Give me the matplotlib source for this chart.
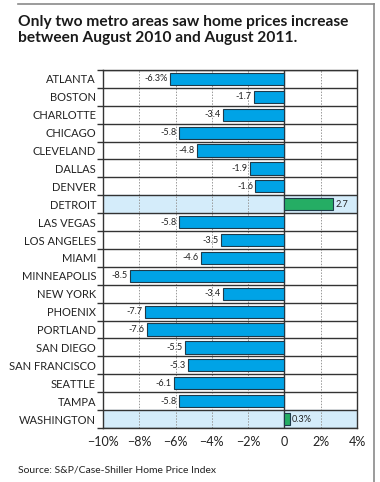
import matplotlib.pyplot as plt
from matplotlib.lines import Line2D
import numpy as np

cities = ['ATLANTA', 'BOSTON', 'CHARLOTTE', 'CHICAGO', 'CLEVELAND', 'DALLAS',
          'DENVER', 'DETROIT', 'LAS VEGAS', 'LOS ANGELES', 'MIAMI', 'MINNEAPOLIS',
          'NEW YORK', 'PHOENIX', 'PORTLAND', 'SAN DIEGO', 'SAN FRANCISCO',
          'SEATTLE', 'TAMPA', 'WASHINGTON']
changes = [-6.3, -1.7, -3.4, -5.8, -4.8, -1.9, -1.6, 2.7, -5.8, -3.5, -4.6, -8.5,
           -3.4, -7.7, -7.6, -5.5, -5.3, -6.1, -5.8, 0.3]
value_labels = ['-6.3%', '-1.7', '-3.4', '-5.8', '-4.8', '-1.9', '-1.6', '2.7',
                '-5.8', '-3.5', '-4.6', '-8.5', '-3.4', '-7.7', '-7.6', '-5.5',
                '-5.3', '-6.1', '-5.8', '0.3%']
xticks = [-10, -8, -6, -4, -2, 0, 2, 4]
xtick_labels = ['\u221210%', '\u22128%', '\u22126%', '\u22124%', '\u22122%', '0', '2%', '4%']

plt.rcParams['font.family'] = ['Lato', 'DejaVu Sans']

fig = plt.figure(figsize=(3.8, 4.82), dpi=100)
ax = fig.add_axes([103/380, 1 - 428/482, 254/380, 358/482])

n = len(cities)
y = np.arange(n)
colors = ['#25ad64' if v > 0 else '#00a3e6' for v in changes]

# highlighted rows
for i, v in enumerate(changes):
    if v > 0:
        ax.axhspan(i - 0.5, i + 0.5, color='#d4ecfa', zorder=0)

ax.barh(y, changes, height=0.68, color=colors, edgecolor='#1e3a4a',
        linewidth=0.8, zorder=3)

for i, (v, lab) in enumerate(zip(changes, value_labels)):
    if v < 0:
        ax.text(v - 0.12, i, lab, ha='right', va='center', fontsize=6.6,
                color='#222222', zorder=4)
    else:
        ax.text(v + 0.12, i, lab, ha='left', va='center', fontsize=6.6,
                color='#222222', zorder=4)

ax.set_xlim(-10, 4)
ax.set_ylim(n - 0.5, -0.5)
ax.set_xticks(xticks)
ax.set_xticklabels(xtick_labels, fontsize=9, color='#222222')
ax.set_yticks(y)
ax.set_yticklabels(cities, fontsize=8, color='#222222')
ax.tick_params(axis='y', which='major', length=0, pad=5)
ax.tick_params(axis='x', length=0, pad=6)

# row separators
ax.set_yticks(np.arange(n + 1) - 0.5, minor=True)
ax.tick_params(axis='y', which='minor', length=4, width=1, color='#333333')
ax.grid(axis='y', which='minor', color='#333333', linewidth=1, zorder=1)
ax.grid(axis='x', which='major', color='#999999', linestyle=(0, (1.5, 1.5)),
        linewidth=0.7, zorder=1)
ax.axvline(0, color='#333333', linewidth=1, zorder=2)
for s in ax.spines.values():
    s.set_color('#333333')
    s.set_linewidth(1)
ax.set_axisbelow(True)

fig.text(18/380, 1 - 30/482, 'Only two metro areas saw home prices increase\nbetween August 2010 and August 2011.',
         fontsize=11.2, fontweight='bold', color='#1a1a1a', va='center',
         linespacing=1.2)
fig.text(18/380, 1 - 470/482, 'Source: S&P/Case-Shiller Home Price Index',
         fontsize=7.5, color='#222222', va='center')

# outer frame
fig.add_artist(Line2D([18/380, 374/380], [1 - 4/482, 1 - 4/482],
                      color='#8a8a8a', linewidth=1.2))
fig.add_artist(Line2D([374/380, 374/380], [1 - 4/482, 0],
                      color='#8a8a8a', linewidth=1.2))

fig.savefig('out.png', dpi=100)
